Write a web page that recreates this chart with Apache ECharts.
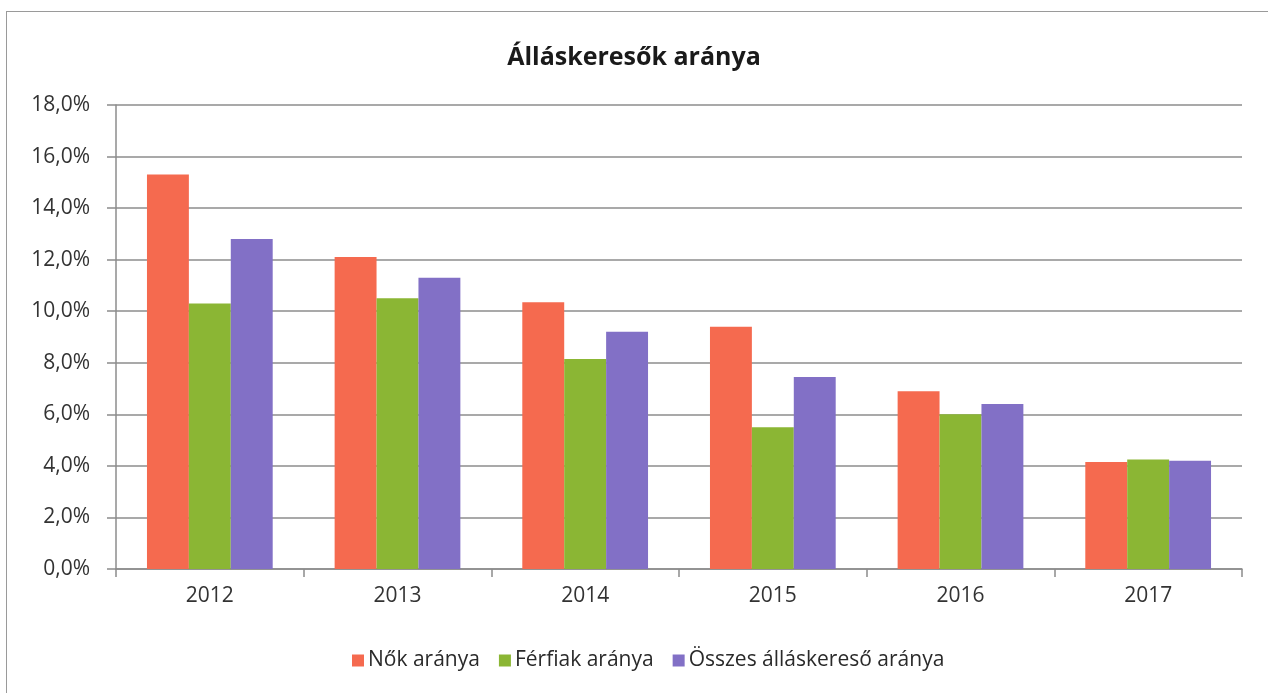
<!DOCTYPE html>
<html>
<head>
<meta charset="utf-8">
<script src="https://cdn.jsdelivr.net/npm/echarts@6/dist/echarts.min.js"></script>
<style>
  html, body { margin: 0; padding: 0; background: #fff; }
  #frame {
    position: absolute; left: 6px; top: 11px; width: 1262px; height: 690px;
    border-left: 1.5px solid #9a9a9a; border-top: 1.5px solid #9a9a9a;
  }
  #chart { position: absolute; left: 0; top: 0; width: 1268px; height: 693px; }
</style>
</head>
<body>
<div id="frame"></div>
<div id="chart"></div>
<script>
const years = ["2012", "2013", "2014", "2015", "2016", "2017"];
const nokArany = [15.3, 12.1, 10.35, 9.4, 6.9, 4.15];
const ferfiakArany = [10.3, 10.5, 8.15, 5.5, 6.0, 4.25];
const osszesArany = [12.8, 11.3, 9.2, 7.45, 6.4, 4.2];
const yTicks = [0, 2, 4, 6, 8, 10, 12, 14, 16, 18];

const fontFam = "'Open Sans', 'Noto Sans', sans-serif";
const gridColor = "#8c8c8c";

const chart = echarts.init(document.getElementById("chart"), null, { renderer: "canvas" });

const option = {
  backgroundColor: "transparent",
  animation: false,
  title: {
    text: "Álláskeresők aránya",
    left: "center",
    top: 40,
    textStyle: { fontFamily: fontFam, fontSize: 25, fontWeight: "bold", color: "#1a1a1a" }
  },
  legend: {
    top: 645,
    left: 347,
    itemWidth: 12,
    itemHeight: 12,
    itemGap: 19,
    icon: "rect",
    textStyle: { fontFamily: fontFam, fontSize: 21, color: "#2a2a2a", padding: [0, 0, 0, -1] },
    data: ["Nők aránya", "Férfiak aránya", "Összes álláskereső aránya"]
  },
  grid: { left: 116, right: 26, top: 105, bottom: 124 },
  xAxis: {
    type: "category",
    data: years,
    axisLine: { lineStyle: { color: gridColor, width: 1.5 } },
    axisTick: { show: true, length: 8, lineStyle: { color: gridColor, width: 1.5 } },
    axisLabel: { fontFamily: fontFam, fontSize: 21, color: "#333", margin: 17 }
  },
  yAxis: {
    type: "value",
    min: yTicks[0],
    max: yTicks[yTicks.length - 1],
    interval: 2,
    axisLine: { show: true, lineStyle: { color: gridColor, width: 1.5 } },
    axisTick: { show: true, length: 9, lineStyle: { color: gridColor, width: 1.5 } },
    splitLine: { lineStyle: { color: gridColor, width: 1.5 } },
    axisLabel: {
      fontFamily: fontFam, fontSize: 21, color: "#333", margin: 26,
      formatter: v => v.toFixed(1).replace(".", ",") + "%"
    }
  },
  series: [
    { name: "Nők aránya", type: "bar", data: nokArany, itemStyle: { color: "#F56A4F" },
      barGap: "0%", barCategoryGap: "33%" },
    { name: "Férfiak aránya", type: "bar", data: ferfiakArany, itemStyle: { color: "#8BB634" } },
    { name: "Összes álláskereső aránya", type: "bar", data: osszesArany, itemStyle: { color: "#8270C6" } }
  ]
};

chart.setOption(option);
</script>
</body>
</html>
